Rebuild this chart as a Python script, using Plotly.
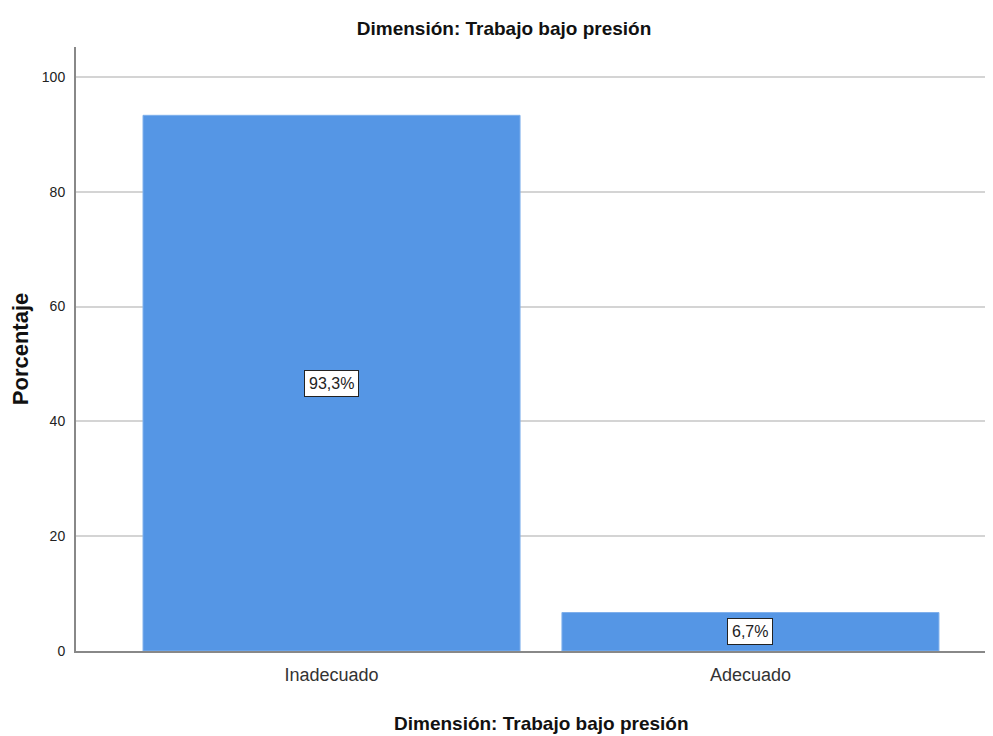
import plotly.graph_objects as go

categories = ["Inadecuado", "Adecuado"]
percentages = [93.3, 6.7]
value_labels = ["93,3%", "6,7%"]
y_ticks = [0, 20, 40, 60, 80, 100]

title_text = "Dimensión: Trabajo bajo presión"
x_title = "Dimensión: Trabajo bajo presión"
y_title = "Porcentaje"

FONT = "Liberation Sans Narrow, Arial Narrow, Liberation Sans, Arial, sans-serif"

fig = go.Figure()
fig.add_trace(go.Bar(
    x=categories, y=percentages, width=0.9,
    marker=dict(color="#5596E5", line=dict(color="#7FB0EC", width=1)),
    hoverinfo="skip", showlegend=False,
))

for c, v, t in zip(categories, percentages, value_labels):
    fig.add_annotation(
        x=c, y=v / 2, text=t, showarrow=False,
        font=dict(family=FONT, size=16, color="#222"),
        bgcolor="white", bordercolor="#222", borderwidth=1, borderpad=4,
    )

fig.add_annotation(
    xref="paper", yref="paper", x=0.508, y=-0.12, yanchor="middle",
    text=x_title, showarrow=False,
    font=dict(family=FONT, size=19, color="#111", weight="bold"),
)

fig.update_layout(
    width=985, height=728,
    margin=dict(l=68, r=0, t=39, b=84.5),
    paper_bgcolor="white", plot_bgcolor="white",
    title=dict(text=title_text, x=0.5036, xanchor="center", y=0.9725, yanchor="middle",
               font=dict(family=FONT, size=19, color="#111", weight="bold")),
    xaxis=dict(
        type="category", range=[-0.61, 1.579],
        showline=True, linecolor="#888", linewidth=2,
        showgrid=False, ticks="", zeroline=False,
        tickfont=dict(family=FONT, size=18, color="#333"),
        ticklabelstandoff=6,
    ),
    yaxis=dict(
        range=[0, 105.2], tickvals=y_ticks,
        showline=True, linecolor="#888", linewidth=2,
        showgrid=True, gridcolor="#d4d4d4", gridwidth=2,
        zeroline=False, ticks="",
        tickfont=dict(family=FONT, size=14, color="#222"),
        ticklabelstandoff=6,
        title=dict(text=y_title, standoff=18,
                   font=dict(family="Liberation Sans, Arial, sans-serif", size=22, color="#111", weight="bold")),
    ),
)

fig.write_html("out.html")
